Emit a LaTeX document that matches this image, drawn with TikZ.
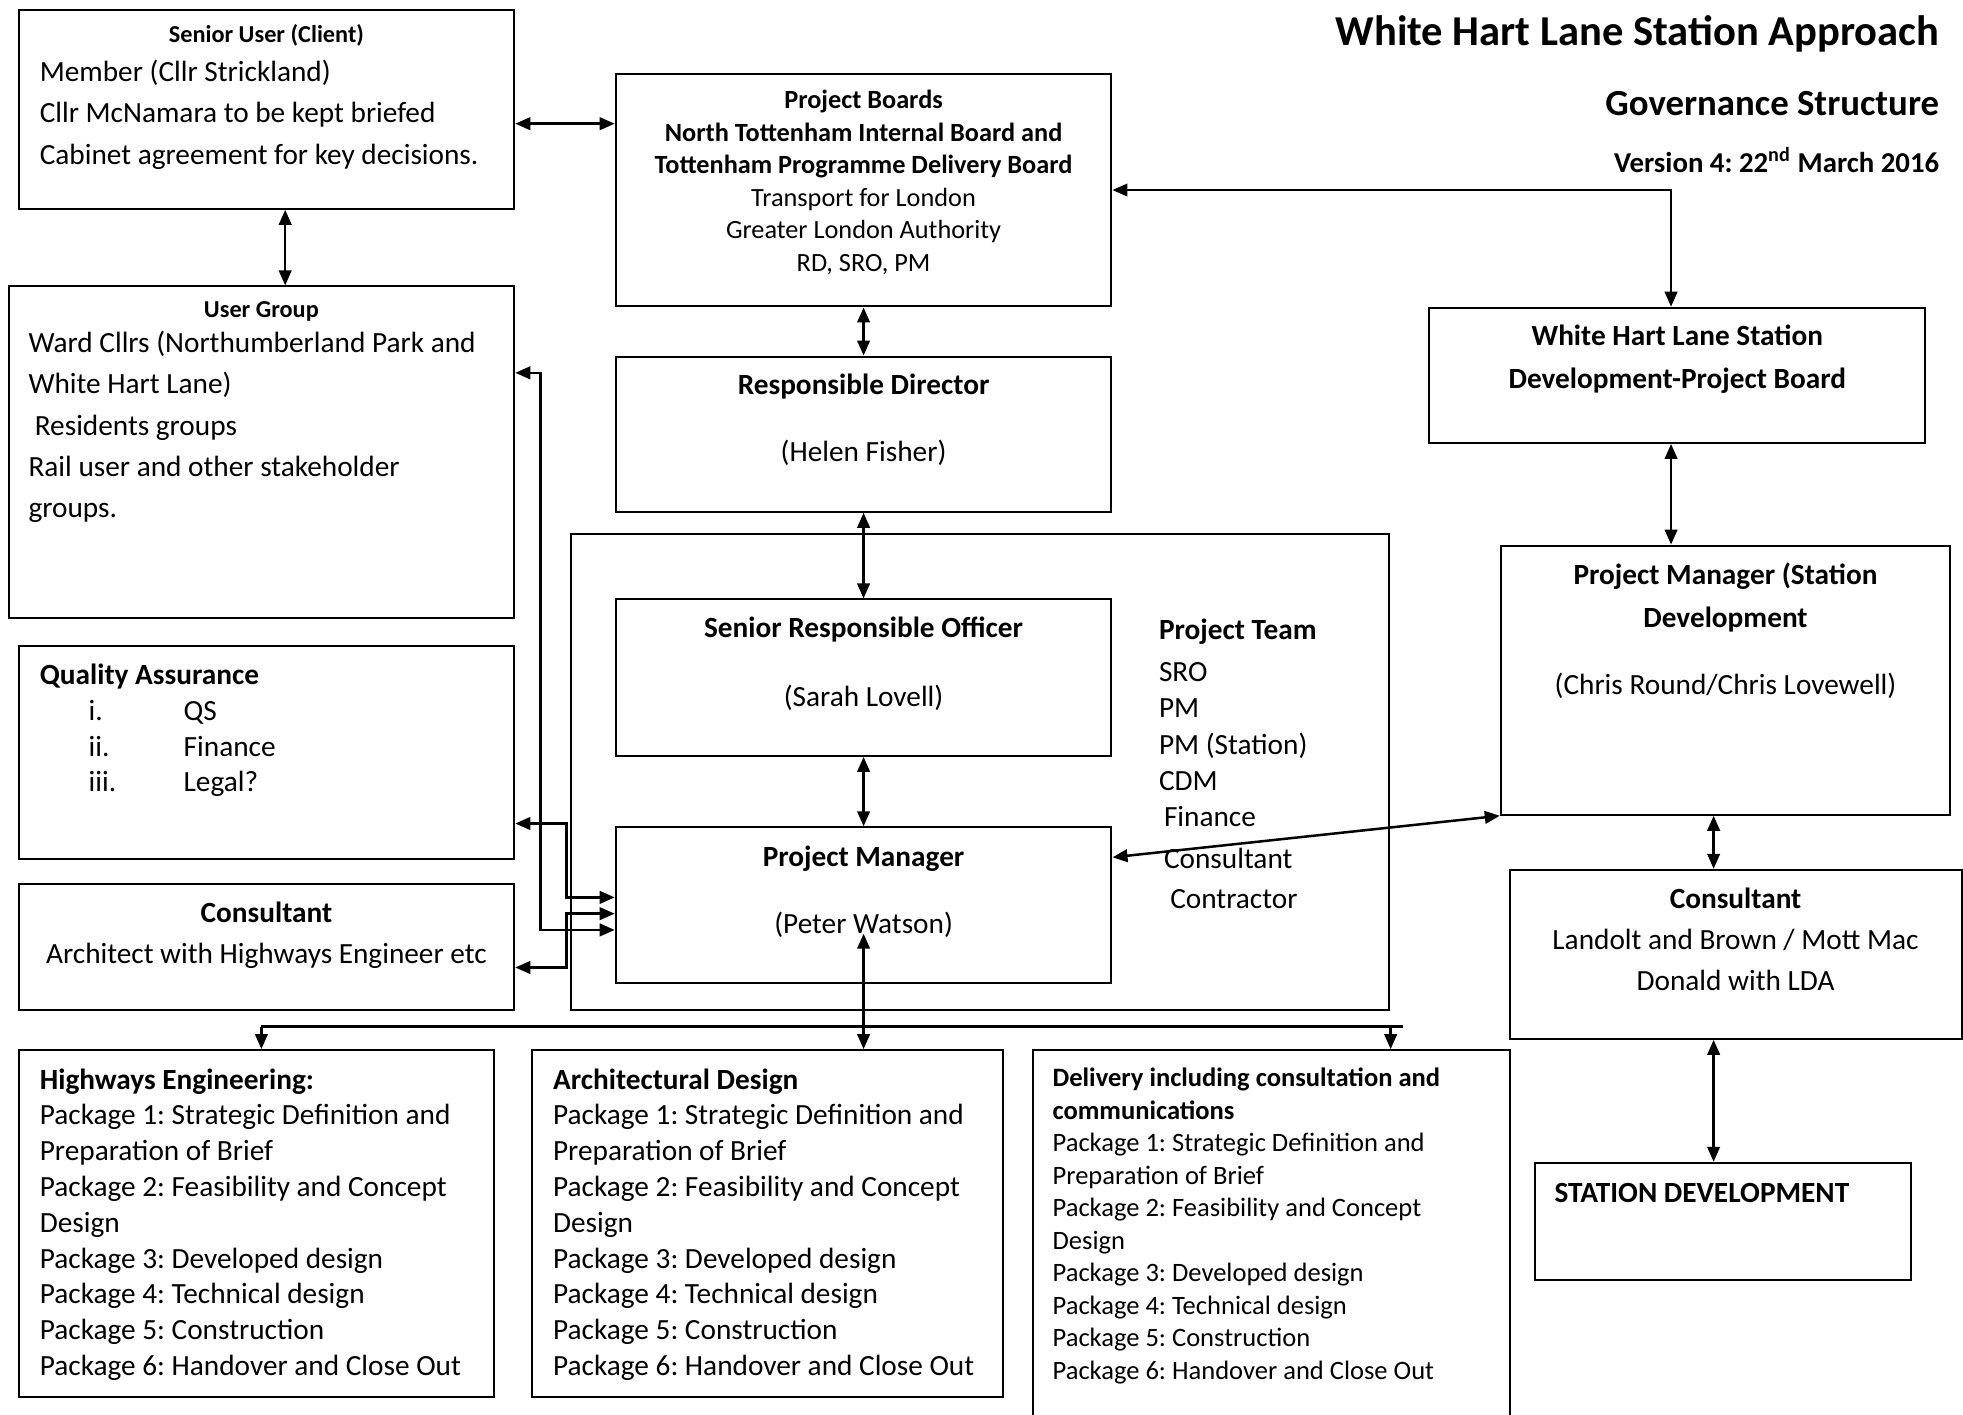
\documentclass[tikz,border=0pt]{standalone}
\usepackage{fontspec}
\setmainfont{Carlito}
\usetikzlibrary{positioning}
\usetikzlibrary{arrows.meta}
\frenchspacing

\newcommand{\boxtext}[3]{\begin{minipage}[c][#2][t]{#1}#3\end{minipage}}
\newcommand{\minihead}{\fontsize{9.7pt}{12pt}\selectfont\bfseries}
\newcommand{\mainbody}{\fontsize{11.7pt}{16.5pt}\selectfont}

\begin{document}
\begin{tikzpicture}[x=0.5pt,y=-0.5pt,line width=1pt,
    >={Triangle[length=6pt,width=5pt]},
    panel/.style={
      % The shape:
      rectangle,inner sep=0pt,anchor=north west,
      % Border
      draw=black,line width=0.8pt
      },
    heading/.style={anchor=base east,inner sep=0pt}]
  \useasboundingbox (0,0) rectangle (1568,1130);

  \node (title) [heading] at (1550,36) {\fontsize{17pt}{20pt}\selectfont\bfseries White Hart Lane Station Approach};
  \node (subtitle) [heading] at (1550,92) {\fontsize{14.7pt}{18pt}\selectfont\bfseries Governance Structure};
  \node (version) [heading] at (1550,138) {\fontsize{11.5pt}{14pt}\selectfont\bfseries Version 4: 22\textsuperscript{nd} March 2016};

  % left column
  \node (senior-user) [panel] at (14,7) {\boxtext{198pt}{79.5pt}{\vspace*{6pt}{\centering\minihead Senior User (Client)\par}\vspace{-1pt}\mainbody\raggedright\leftskip=8.5pt\relax Member (Cllr Strickland)\\Cllr McNamara to be kept briefed\\Cabinet agreement for key decisions.}};
  \node (user-group) [panel] at (6,228) {\boxtext{202pt}{132.5pt}{\vspace*{6pt}{\centering\minihead User Group\par}\vspace{-2.5pt}\mainbody\raggedright\leftskip=8pt\relax Ward Cllrs (Northumberland Park and\\White Hart Lane)\\\hspace*{2.5pt}Residents groups\\Rail user and other stakeholder\\groups.}};
  \node (quality) [panel] at (14,515) {\boxtext{198pt}{85pt}{\vspace*{7.35pt}\raggedright\leftskip=8.5pt\relax\fontsize{11.7pt}{14.25pt}\selectfont\textbf{Quality Assurance}\\\hspace*{19.5pt}\makebox[38pt][l]{i.}QS\\\hspace*{19.5pt}\makebox[38pt][l]{ii.}Finance\\\hspace*{19.5pt}\makebox[38pt][l]{iii.}Legal?}};
  \node (consultant) [panel] at (14,705) {\boxtext{198pt}{50.5pt}{\vspace*{7.35pt}\centering\mainbody\textbf{Consultant}\\Architect with Highways Engineer etc}};

  % middle column
  \node (project-boards) [panel] at (491,58) {\boxtext{198pt}{93pt}{\vspace*{6.6pt}\centering\fontsize{10.5pt}{13pt}\selectfont{\bfseries Project Boards\\North Tottenham Internal Board and\\Tottenham Programme Delivery Board}\\Transport for London\\Greater London Authority\\RD, SRO, PM}};
  \node (resp-director) [panel] at (491,284) {\boxtext{198pt}{62pt}{\vspace*{6.85pt}\centering\mainbody\textbf{Responsible Director}\\[10.5pt](Helen Fisher)}};
  \node (project-team) [panel] at (455,426) {\boxtext{327pt}{190pt}{\vspace*{33.85pt}\raggedright\leftskip=235pt\relax\fontsize{11.7pt}{14.5pt}\selectfont\textbf{Project Team}\\[2.25pt]SRO\\PM\\PM (Station)\\CDM\\\hspace*{2pt}Finance\\[2pt]\hspace*{2pt}Consultant\\[1.5pt]\hspace*{4.5pt}Contractor}};
  \node (sro) [panel] at (491,478) {\boxtext{198pt}{62.5pt}{\vspace*{6.85pt}\centering\mainbody\textbf{Senior Responsible Officer}\\[11pt](Sarah Lovell)}};
  \node (project-manager) [panel] at (491,660) {\boxtext{198pt}{62pt}{\vspace*{7.35pt}\centering\mainbody\textbf{Project Manager}\\[10.5pt](Peter Watson)}};

  % right column
  \node (whl-board) [panel] at (1141,245) {\boxtext{198pt}{54pt}{\vspace*{6.85pt}\centering\fontsize{11.7pt}{17pt}\selectfont\bfseries White Hart Lane Station\\Development-Project Board}};
  \node (pm-station) [panel] at (1198,435) {\boxtext{179.5pt}{107.5pt}{\vspace*{6.85pt}\centering\fontsize{11.7pt}{17pt}\selectfont{\bfseries Project Manager (Station\\Development}\\[10pt](Chris Round/Chris Lovewell)}};
  \node (consultant-station) [panel] at (1205,694) {\boxtext{180.5pt}{67.5pt}{\vspace*{7.35pt}\centering\fontsize{11.7pt}{16.25pt}\selectfont\textbf{Consultant}\\Landolt and Brown / Mott Mac\\Donald with LDA}};
  \node (station-dev) [panel] at (1225,928) {\boxtext{150.5pt}{47pt}{\vspace*{8.25pt}\raggedright\leftskip=8pt\relax\mainbody\bfseries STATION DEVELOPMENT}};

  % work packages
  \node (highways) [panel] at (14,838) {\boxtext{190pt}{138.5pt}{\vspace*{7.35pt}\raggedright\leftskip=8.5pt\relax\fontsize{11.7pt}{14.3pt}\selectfont\textbf{Highways Engineering:}\\Package 1: Strategic Definition and\\Preparation of Brief\\Package 2: Feasibility and Concept\\Design\\Package 3: Developed design\\Package 4: Technical design\\Package 5: Construction\\Package 6: Handover and Close Out}};
  \node (architecture) [panel] at (424,838) {\boxtext{188pt}{138.5pt}{\vspace*{7.35pt}\raggedright\leftskip=8.5pt\relax\fontsize{11.7pt}{14.3pt}\selectfont\textbf{Architectural Design}\\Package 1: Strategic Definition and\\Preparation of Brief\\Package 2: Feasibility and Concept\\Design\\Package 3: Developed design\\Package 4: Technical design\\Package 5: Construction\\Package 6: Handover and Close Out}};
  \node (delivery) [panel] at (824,838) {\boxtext{190.5pt}{160pt}{\vspace*{7.1pt}\raggedright\leftskip=8pt\relax\fontsize{10.6pt}{13pt}\selectfont{\bfseries Delivery including consultation and\\communications}\\Package 1: Strategic Definition and\\Preparation of Brief\\Package 2: Feasibility and Concept\\Design\\Package 3: Developed design\\Package 4: Technical design\\Package 5: Construction\\Package 6: Handover and Close Out}};

  % ports
  \coordinate (su-port) at ([yshift=-5.75pt]senior-user.east);
  \coordinate (su-down) at ([xshift=7.5pt]senior-user.south);
  \coordinate (whl-up) at ([xshift=-2.5pt]whl-board.north);
  \coordinate (whl-down) at ([xshift=-2.5pt]whl-board.south);
  \coordinate (pms-down) at ([xshift=-4.75pt]pm-station.south);
  \coordinate (cs-down) at ([xshift=-8.75pt]consultant-station.south);
  \coordinate (pm-right) at ([yshift=19pt]project-manager.east);
  \coordinate (ug-port) at ([yshift=31.75pt]user-group.east);
  \coordinate (qa-port) at ([yshift=-28.5pt]quality.east);
  \coordinate (cl-port) at ([yshift=-8.25pt]consultant.east);
  \coordinate (pm-in1) at ([yshift=3pt]project-manager.west);
  \coordinate (pm-in2) at ([yshift=-3.5pt]project-manager.west);
  \coordinate (pm-in3) at ([yshift=-10pt]project-manager.west);
  \coordinate (pm-low) at ([yshift=-11.5pt]project-manager.center);
  \coordinate (bus-left) at ([xshift=2pt,yshift=9pt]highways.north);
  \coordinate (bus-drop) at ([xshift=47.75pt,yshift=9pt]delivery.north);
  \coordinate (bus-end) at ([xshift=52.75pt,yshift=9pt]delivery.north);

  \draw [<->] (su-port) -- (su-port -| project-boards.west);
  \draw [<->] (su-down) -- (su-down |- user-group.north);
  \draw [<->] (project-boards.south) -- (resp-director.north);
  \draw [<->] (resp-director.south) -- (sro.north);
  \draw [<->] (sro.south) -- (project-manager.north);
  \draw [<->] (project-boards.east) -| (whl-up);
  \draw [<->] (whl-down) -- (whl-down |- pm-station.north);
  \draw [<->] (pms-down) -- (pms-down |- consultant-station.north);
  \draw [<->] (cs-down) -- (cs-down |- station-dev.north);
  \draw [<->] (pm-right) -- (pm-station.south west);
  \draw [<->] (ug-port) -- ++(20,0) |- (pm-in3);
  \draw [<->] (qa-port) -- ++(41,0) |- (pm-in1);
  \draw [<->] (cl-port) -- ++(41,0) |- (pm-in2);
  \draw [<->] (pm-low) -- (pm-low |- architecture.north);
  \draw (bus-left) -- (bus-end);
  \draw [->] (bus-left) -- (bus-left |- highways.north);
  \draw [->] (bus-drop) -- (bus-drop |- delivery.north);
\end{tikzpicture}
\end{document}
